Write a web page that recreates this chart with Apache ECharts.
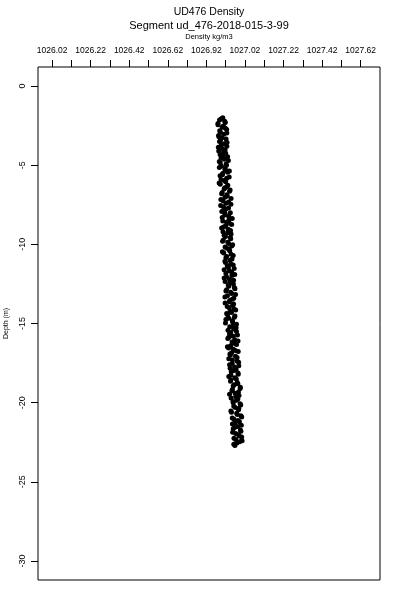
<!DOCTYPE html>
<html>
<head>
<meta charset="utf-8">
<script src="https://cdn.jsdelivr.net/npm/echarts@6/dist/echarts.min.js"></script>
<style>html,body{margin:0;padding:0;background:#fff}#c{width:400px;height:600px}</style>
</head>
<body>
<div id="c"></div>
<script>
const titleMain = 'UD476 Density';
const titleSub = 'Segment ud_476-2018-015-3-99';
const xName = 'Density kg/m3';
const yName = 'Depth (m)';
const xTickValues = [1026.02,1026.12,1026.22,1026.32,1026.42,1026.52,1026.62,1026.72,1026.82,1026.92,1027.02,1027.12,1027.22,1027.32,1027.42,1027.52,1027.62];
const xLabelValues = [1026.02,1026.22,1026.42,1026.62,1026.82,1027.02,1027.22,1027.42,1027.62];
const xLabelTexts = ['1026.02','1026.22','1026.42','1026.62','1026.92','1027.02','1027.22','1027.42','1027.62'];
const yTickValues = [0,-5,-10,-15,-20,-25,-30];
const depthA = [
-2.0,-2.15,-2.3,-2.45,-2.6,-2.75,-2.9,-3.05,-3.2,-3.35,
-3.5,-3.65,-3.8,-3.95,-4.1,-4.25,-4.4,-4.55,-4.7,-4.85,
-5.0,-5.15,-5.3,-5.45,-5.6,-5.75,-5.9,-6.05,-6.2,-6.35,
-6.5,-6.65,-6.8,-6.95,-7.1,-7.25,-7.4,-7.55,-7.7,-7.85,
-8.0,-8.15,-8.3,-8.45,-8.6,-8.75,-8.9,-9.05,-9.2,-9.35,
-9.5,-9.65,-9.8,-9.95,-10.1,-10.25,-10.4,-10.55,-10.7,-10.85,
-11.0,-11.15,-11.3,-11.45,-11.6,-11.75,-11.9,-12.05,-12.2,-12.35,
-12.5,-12.65,-12.8,-12.95,-13.1,-13.25,-13.4,-13.55,-13.7,-13.85,
-14.0,-14.15,-14.3,-14.45,-14.6,-14.75,-14.9,-15.05,-15.2,-15.35,
-15.5,-15.65,-15.8,-15.95,-16.1,-16.25,-16.4,-16.55,-16.7,-16.85,
-17.0,-17.15,-17.3,-17.45,-17.6,-17.75,-17.9,-18.05,-18.2,-18.35,
-18.5,-18.65,-18.8,-18.95,-19.1,-19.25,-19.4,-19.55,-19.7,-19.85,
-20.0,-20.15,-20.3,-20.45,-20.6,-20.75,-20.9,-21.05,-21.2,-21.35,
-21.5,-21.65,-21.8,-21.95,-22.1,-22.25,-22.4,-22.55,-22.7
];
const densityA = [
1026.905,1026.888,1026.918,1026.880,1026.902,1026.925,1026.892,1026.910,1026.885,1026.922,
1026.888,1026.912,1026.926,1026.901,1026.884,1026.920,1026.906,1026.896,1026.934,1026.892,
1026.924,1026.887,1026.916,1026.930,1026.903,1026.938,1026.896,1026.920,1026.892,1026.927,
1026.912,1026.940,1026.899,1026.928,1026.948,1026.906,1026.921,1026.894,1026.935,1026.915,
1026.944,1026.916,1026.902,1026.937,1026.925,1026.951,1026.909,1026.933,1026.906,1026.948,
1026.919,1026.946,1026.904,1026.935,1026.951,1026.926,1026.941,1026.910,1026.959,1026.921,
1026.943,1026.919,1026.959,1026.934,1026.912,1026.951,1026.967,1026.924,1026.940,1026.917,
1026.960,1026.936,1026.968,1026.921,1026.951,1026.929,1026.962,1026.941,1026.917,1026.956,
1026.938,1026.972,1026.950,1026.930,1026.965,1026.921,1026.956,1026.976,1026.941,1026.961,
1026.976,1026.940,1026.959,1026.931,1026.984,1026.964,1026.946,1026.935,1026.970,1026.951,
1026.944,1026.979,1026.955,1026.987,1026.940,1026.966,1026.974,1026.949,1026.985,1026.936,
1026.975,1026.945,1026.983,1026.959,1026.995,1026.952,1026.969,1026.989,1026.948,1026.977,
1026.959,1026.998,1026.970,1026.987,1026.950,1026.980,1027.003,1026.963,1026.991,1026.955,
1026.982,1026.959,1026.999,1026.972,1026.990,1026.963,1027.005,1026.978,1026.968
];
const depthB = [
-2.075,-2.225,-2.375,-2.525,-2.675,-2.825,-2.975,-3.125,-3.275,-3.425,
-3.575,-3.725,-3.875,-4.025,-4.175,-4.325,-4.475,-4.625,-4.775,-4.925,
-5.075,-5.225,-5.375,-5.525,-5.675,-5.825,-5.975,-6.125,-6.275,-6.425,
-6.575,-6.725,-6.875,-7.025,-7.175,-7.325,-7.475,-7.625,-7.775,-7.925,
-8.075,-8.225,-8.375,-8.525,-8.675,-8.825,-8.975,-9.125,-9.275,-9.425,
-9.575,-9.725,-9.875,-10.025,-10.175,-10.325,-10.475,-10.625,-10.775,-10.925,
-11.075,-11.225,-11.375,-11.525,-11.675,-11.825,-11.975,-12.125,-12.275,-12.425,
-12.575,-12.725,-12.875,-13.025,-13.175,-13.325,-13.475,-13.625,-13.775,-13.925,
-14.075,-14.225,-14.375,-14.525,-14.675,-14.825,-14.975,-15.125,-15.275,-15.425,
-15.575,-15.725,-15.875,-16.025,-16.175,-16.325,-16.475,-16.625,-16.775,-16.925,
-17.075,-17.225,-17.375,-17.525,-17.675,-17.825,-17.975,-18.125,-18.275,-18.425,
-18.575,-18.725,-18.875,-19.025,-19.175,-19.325,-19.475,-19.625,-19.775,-19.925,
-20.075,-20.225,-20.375,-20.525,-20.675,-20.825,-20.975,-21.125,-21.275,-21.425,
-21.575,-21.725,-21.875,-22.025,-22.175,-22.325,-22.475,-22.625
];
const densityB = [
1026.897,1026.915,1026.880,1026.908,1026.919,1026.889,1026.926,1026.883,1026.901,1026.893,
1026.927,1026.897,1026.882,1026.917,1026.909,1026.891,1026.930,1026.913,1026.887,1026.922,
1026.898,1026.918,1026.939,1026.904,1026.891,1026.925,1026.912,1026.886,1026.931,1026.916,
1026.943,1026.902,1026.926,1026.916,1026.895,1026.935,1026.947,1026.908,1026.920,1026.900,
1026.917,1026.936,1026.954,1026.905,1026.939,1026.920,1026.899,1026.945,1026.930,1026.912,
1026.944,1026.908,1026.931,1026.956,1026.917,1026.939,1026.903,1026.948,1026.925,1026.953,
1026.916,1026.946,1026.928,1026.964,1026.938,1026.921,1026.952,1026.912,1026.961,1026.942,
1026.933,1026.965,1026.925,1026.946,1026.971,1026.916,1026.954,1026.939,1026.961,1026.928,
1026.963,1026.943,1026.925,1026.968,1026.936,1026.955,1026.919,1026.959,1026.974,1026.932,
1026.946,1026.981,1026.936,1026.967,1026.953,1026.976,1026.929,1026.960,1026.985,1026.942,
1026.971,1026.936,1026.979,1026.954,1026.988,1026.943,1026.963,1026.984,1026.947,1026.968,
1026.947,1026.980,1026.964,1026.996,1026.955,1026.986,1026.940,1026.972,1026.983,1026.958,
1026.995,1026.962,1026.988,1026.947,1026.977,1026.999,1026.954,1026.984,1026.968,1027.001,
1026.966,1026.996,1026.956,1026.987,1027.003,1026.972,1026.992,1026.962
];
const points = densityA.map((d, i) => [d, depthA[i]])
  .concat(densityB.map((d, i) => [d, depthB[i]]));

const FONT = 'Liberation Sans, Arial, sans-serif';
const chart = echarts.init(document.getElementById('c'), null, {renderer: 'canvas'});
chart.setOption({
  animation: false,
  backgroundColor: '#fff',
  graphic: [
    {type: 'text', x: 209, y: 12, style: {text: titleMain, fontFamily: FONT, fontSize: 10.5, fill: '#000', textAlign: 'center', textVerticalAlign: 'middle'}},
    {type: 'text', x: 209, y: 26, style: {text: titleSub, fontFamily: FONT, fontSize: 11, fill: '#000', textAlign: 'center', textVerticalAlign: 'middle'}}
  ],
  grid: {left: 38, right: 20, top: 67, bottom: 20, containLabel: false, outerBoundsMode: 'none', show: true, borderColor: '#000', borderWidth: 1, backgroundColor: 'transparent'},
  xAxis: {
    type: 'value', position: 'top', min: 1025.947, max: 1027.72,
    name: xName, nameLocation: 'middle', nameGap: 26,
    nameTextStyle: {fontFamily: FONT, fontSize: 7.5, color: '#000'},
    axisLine: {show: false, onZero: false},
    splitLine: {show: false},
    axisTick: {show: true, length: 7, inside: false, customValues: xTickValues, lineStyle: {color: '#000', width: 1}},
    axisLabel: {
      show: true, margin: 12, fontFamily: FONT, fontSize: 8.5, color: '#000',
      customValues: xLabelValues,
      formatter: function (v) {
        for (let i = 0; i < xLabelValues.length; i++) {
          if (Math.abs(xLabelValues[i] - v) < 1e-6) return xLabelTexts[i];
        }
        return '';
      }
    }
  },
  yAxis: {
    type: 'value', min: -31.2, max: 1.2,
    name: yName, nameLocation: 'middle', nameGap: 28, nameRotate: 90,
    nameTextStyle: {fontFamily: FONT, fontSize: 7, color: '#000'},
    axisLine: {show: false, onZero: false},
    splitLine: {show: false},
    axisTick: {show: true, length: 7, inside: false, customValues: yTickValues, lineStyle: {color: '#000', width: 1}},
    axisLabel: {show: true, rotate: 90, margin: 11, fontFamily: FONT, fontSize: 9, color: '#000', customValues: yTickValues}
  },
  series: [{
    type: 'scatter',
    data: points,
    symbol: 'circle',
    symbolSize: 5,
    itemStyle: {color: '#000', opacity: 1},
    silent: true
  }]
});
</script>
</body>
</html>
